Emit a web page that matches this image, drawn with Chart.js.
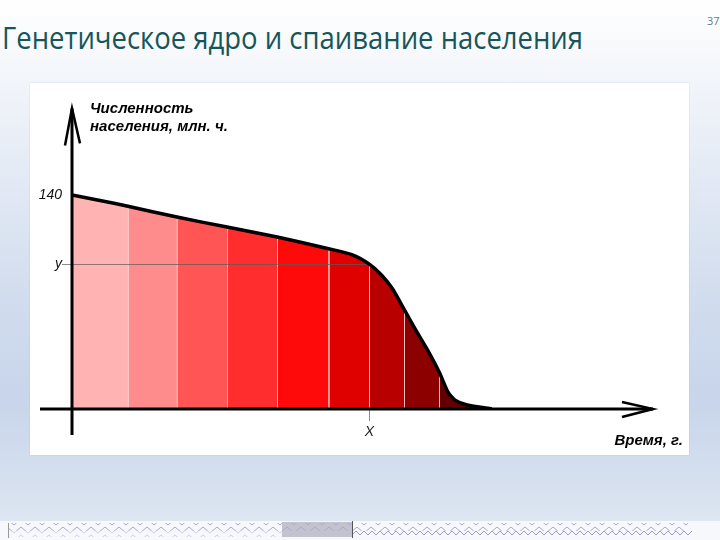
<!DOCTYPE html>
<html lang="ru">
<head>
<meta charset="utf-8">
<title>Генетическое ядро и спаивание населения</title>
<script src="https://cdn.jsdelivr.net/npm/chart.js@4.4.1/dist/chart.umd.min.js"></script>
<style>
  html, body { margin: 0; padding: 0; }
  body {
    width: 720px; height: 540px; overflow: hidden; position: relative;
    background: linear-gradient(to bottom, #ffffff 0px, #f2f5fa 80px, #d1dcee 300px, #c8d5ea 400px, #d9e3f0 505px, #e4ebf4 540px);
  }
  #title {
    position: absolute; left: 2px; top: 22px;
    font-family: "Open Sans"; font-size: 31px; line-height: 31px;
    color: #16565a; white-space: nowrap; transform-origin: 0 0;
  }
  #page { position: absolute; left: 707px; top: 13px; font: 11px "Open Sans"; color: #5a7f86; }
  #panel {
    position: absolute; left: 30px; top: 83px; width: 659px; height: 372px;
    background: #fff; box-shadow: 0 0 1px rgba(150, 165, 190, 0.7);
  }
  #chart { position: absolute; left: 31px; top: 85px; }
  #strip { position: absolute; left: 0; top: 518px; }
</style>
</head>
<body>
<div id="title">Генетическое ядро и спаивание населения</div>
<div id="page">37</div>
<div id="panel"></div>
<canvas id="chart" width="658" height="370"></canvas>

<svg id="strip" width="720" height="22" viewBox="0 0 720 22">
  <defs>
    <pattern id="zz" width="14" height="8" patternUnits="userSpaceOnUse">
      <polyline points="0,7 7,1 14,7" fill="none" stroke="#a8a8d4" stroke-width="1"/>
    </pattern>
    <pattern id="zz2" width="8" height="6" patternUnits="userSpaceOnUse">
      <polyline points="0,5 4,1 8,5" fill="none" stroke="#9a9acc" stroke-width="1"/>
    </pattern>
  </defs>
  <rect x="0" y="3" width="720" height="19" fill="#f7f8fb"/>
  <rect x="282" y="4" width="70" height="15" fill="#c3c3cf"/>
  <rect x="8" y="5" width="680" height="8" fill="url(#zz)"/>
  <rect x="8" y="13" width="274" height="6" fill="url(#zz)" opacity="0.5"/>
  <rect x="352" y="13" width="340" height="6" fill="url(#zz2)"/>
  <line x1="8.5" y1="5" x2="8.5" y2="20" stroke="#999"/>
  <line x1="352.5" y1="3" x2="352.5" y2="20" stroke="#555"/>
</svg>

<script>
// кривая численности (время в условных единицах, население в млн.)
const timeYears = [0, 4.8, 9.6, 18, 26.6, 35.2, 44, 48, 51, 53, 55, 57, 59, 61, 63, 64.5, 65.7, 67.8, 72];
const population = [140, 136.5, 132.7, 125.6, 119.1, 112.6, 104.9, 101, 94.8, 88, 78.5, 65, 51.5, 38.5, 24, 11, 5.8, 2.6, 0];

// границы цветных полос по времени
const bandEdges = [0, 9.6, 18, 26.6, 35.2, 44, 51, 57, 63, 72];
const bandColors = ['#ffb3b3', '#ff8c8c', '#ff5555', '#ff2d2d', '#ff0a0a', '#df0000', '#b80000', '#8c0000', '#620000'];

// подписи на осях
const yTicks = [95, 140];
const yTickLabels = ['y', '140'];
const xTicks = [51];
const xTickLabels = ['X'];

// заголовок сжимаем по ширине, как в оригинале
const titleEl = document.getElementById('title');
titleEl.style.transform = 'scaleX(' + (581 / titleEl.getBoundingClientRect().width) + ')';

const curve = timeYears.map((t, i) => ({ x: t, y: population[i] }));

const bandSets = bandColors.map((color, i) => ({
  data: curve.filter(p => p.x >= bandEdges[i] && p.x <= bandEdges[i + 1]),
  backgroundColor: color,
  borderWidth: 0,
  pointRadius: 0,
  tension: 0.2,
  fill: 'origin',
}));

const axesPlugin = {
  id: 'axesPlugin',
  beforeDatasetDraw(chart, args) {
    // разделители полос и метка y — под чёрной кривой
    if (args.index !== 0) return;
    const { ctx, scales: { x, y } } = chart;
    const x0 = x.getPixelForValue(0);
    const y0 = y.getPixelForValue(0);
    ctx.save();
    ctx.lineWidth = 1;
    ctx.strokeStyle = 'rgba(255, 235, 235, 0.6)';
    bandEdges.slice(1, -1).forEach(edge => {
      const i = timeYears.indexOf(edge);
      const px = Math.round(x.getPixelForValue(edge)) + 0.5;
      ctx.beginPath();
      ctx.moveTo(px, y0);
      ctx.lineTo(px, y.getPixelForValue(population[i]) + 2);
      ctx.stroke();
    });
    const mx = Math.round(x.getPixelForValue(xTicks[0])) + 0.5;
    const my = Math.round(y.getPixelForValue(yTicks[0])) + 0.5;
    ctx.strokeStyle = 'rgba(90, 90, 90, 0.7)';
    ctx.beginPath();
    ctx.moveTo(x0 - 10, my);
    ctx.lineTo(mx, my);
    ctx.stroke();
    ctx.beginPath();
    ctx.moveTo(mx, y0);
    ctx.lineTo(mx, y0 + 12);
    ctx.stroke();
    ctx.restore();
  },
  afterDatasetsDraw(chart) {
    const { ctx, chartArea, scales: { x, y } } = chart;
    const x0 = x.getPixelForValue(0);
    const y0 = y.getPixelForValue(0);
    const tipX = chartArea.right - 2;
    const tipY = chartArea.top + 5;
    ctx.save();
    ctx.strokeStyle = '#000';
    ctx.lineWidth = 3;
    // ось времени
    ctx.beginPath();
    ctx.moveTo(x0 - 32, y0);
    ctx.lineTo(tipX, y0);
    ctx.stroke();
    // ось численности
    ctx.beginPath();
    ctx.moveTo(x0, y0 + 26);
    ctx.lineTo(x0, tipY);
    ctx.stroke();
    // стрелки
    ctx.lineWidth = 2.5;
    ctx.beginPath();
    ctx.moveTo(tipX - 31, y0 - 7);
    ctx.lineTo(tipX, y0);
    ctx.lineTo(tipX - 31, y0 + 8);
    ctx.moveTo(x0 - 7, tipY + 37);
    ctx.lineTo(x0, tipY);
    ctx.lineTo(x0 + 8, tipY + 35);
    ctx.stroke();
    // названия осей
    ctx.fillStyle = '#000';
    ctx.font = 'italic bold 15px "Liberation Sans"';
    ctx.textAlign = 'left';
    ctx.fillText('Численность', x0 + 18, chartArea.top + 10);
    ctx.fillText('населения, млн. ч.', x0 + 18, chartArea.top + 28);
    ctx.textAlign = 'right';
    ctx.fillText('Время, г.', chartArea.right + 28, y0 + 36);
    ctx.restore();
  },
};

new Chart(document.getElementById('chart'), {
  type: 'line',
  data: {
    datasets: [
      {
        data: curve,
        borderColor: '#000',
        borderWidth: 3.5,
        pointRadius: 0,
        tension: 0.2,
        fill: false,
      },
      ...bandSets,
    ],
  },
  options: {
    responsive: false,
    animation: false,
    layout: { padding: { left: 0, right: 34, top: 15, bottom: 0 } },
    plugins: { legend: { display: false }, tooltip: { enabled: false } },
    scales: {
      x: {
        type: 'linear',
        min: 0,
        max: 100,
        grid: { display: false, drawTicks: false },
        border: { display: false },
        afterBuildTicks: s => { s.ticks = xTicks.map(v => ({ value: v })); },
        afterFit: s => { s.height = 46; },
        ticks: {
          padding: 15,
          autoSkip: false,
          maxRotation: 0,
          color: '#222',
          font: { family: 'Liberation Sans', size: 14, style: 'italic' },
          callback: v => xTickLabels[xTicks.indexOf(v)],
        },
      },
      y: {
        min: 0,
        max: 200,
        grid: { display: false, drawTicks: false },
        border: { display: false },
        afterBuildTicks: s => { s.ticks = yTicks.map(v => ({ value: v })); },
        afterFit: s => { s.width = 41; },
        ticks: {
          padding: 10,
          color: '#111',
          font: { family: 'Liberation Sans', size: 14, style: 'italic' },
          callback: v => yTickLabels[yTicks.indexOf(v)],
        },
      },
    },
  },
  plugins: [axesPlugin],
});
</script>
</body>
</html>
